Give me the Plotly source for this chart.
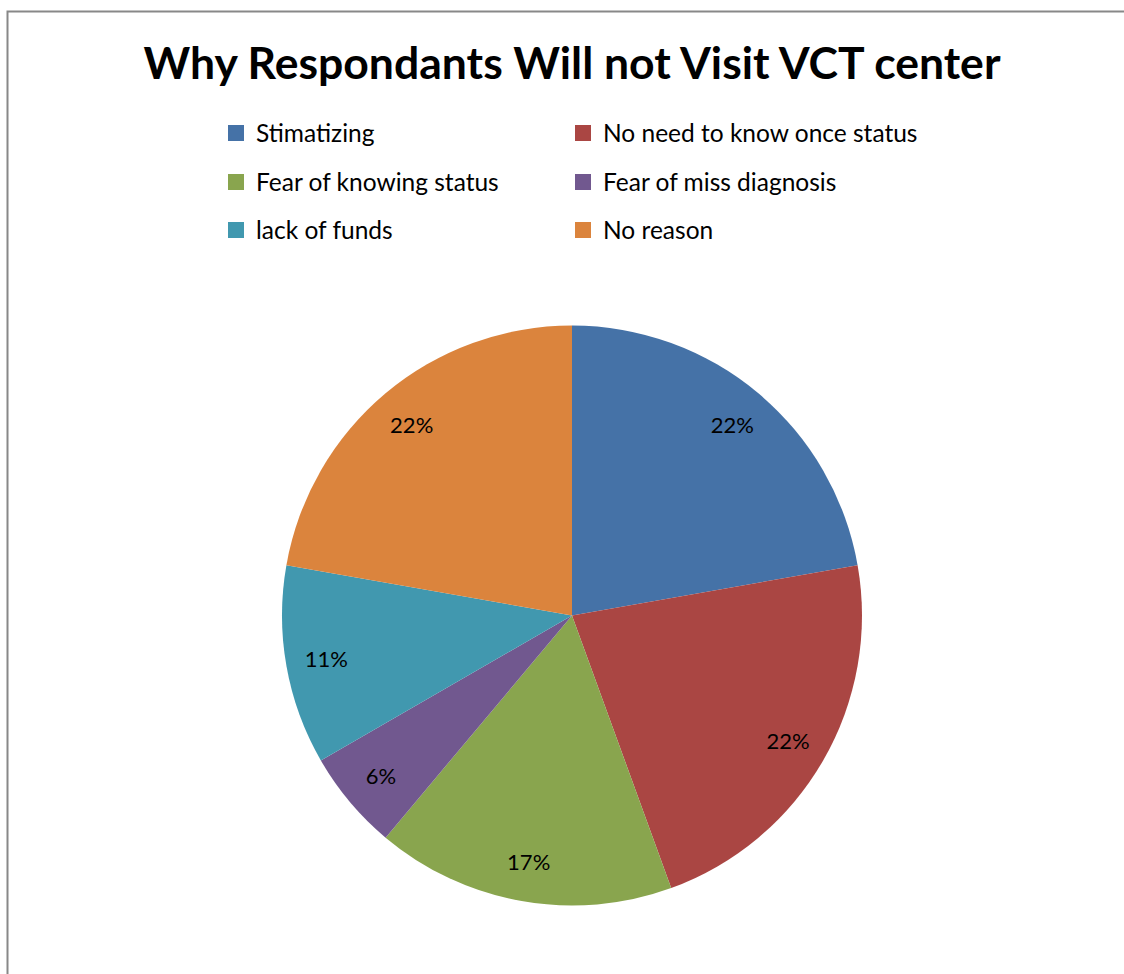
import plotly.graph_objects as go

categories = ["Stimatizing", "No need to know once status", "Fear of knowing status",
              "Fear of miss diagnosis", "lack of funds", "No reason"]
counts = [4, 4, 3, 1, 2, 4]
colors = ["#4572A7", "#AA4643", "#89A54E", "#71588F", "#4198AF", "#DB843D"]
title_text = "Why Respondants Will not Visit VCT center"

W, H = 1124, 974
FONT = "Lato, Open Sans, sans-serif"

fig = go.Figure()

# main pie (slices only)
fig.add_trace(go.Pie(
    labels=categories, values=counts, sort=False, direction="clockwise", rotation=0,
    marker=dict(colors=colors, line=dict(width=0)),
    textinfo="none", hoverinfo="label+percent", showlegend=False,
    domain=dict(x=[282 / W, 862 / W], y=[1 - 906 / H, 1 - 325 / H]),
))
# transparent ring overlay carrying percentage labels near the rim
fig.add_trace(go.Pie(
    labels=categories, values=counts, sort=False, direction="clockwise", rotation=0,
    hole=0.72,
    marker=dict(colors=["rgba(0,0,0,0)"] * len(categories), line=dict(width=0)),
    texttemplate="%{percent:.0%}", textposition="inside", insidetextorientation="horizontal",
    textfont=dict(family=FONT, size=22, color="#000000"),
    hoverinfo="skip", showlegend=False,
    domain=dict(x=[282 / W, 862 / W], y=[1 - 906 / H, 1 - 325 / H]),
))

# legend entries: two columns, three rows, one legend box per entry
legend_ids = ["legend", "legend2", "legend3", "legend4", "legend5", "legend6"]
for name, col, lg in zip(categories, colors, legend_ids):
    fig.add_trace(go.Scatter(
        x=[None], y=[None], mode="markers", name=name, legend=lg,
        marker=dict(symbol="square", size=16, color=col),
        showlegend=True, hoverinfo="skip",
    ))

leg_common = dict(orientation="h", xanchor="left", yanchor="middle",
                  font=dict(family=FONT, size=24.5, color="#000000"),
                  bgcolor="rgba(0,0,0,0)", borderwidth=0, itemclick=False, itemdoubleclick=False,
                  itemsizing="trace")
rows_y = [133, 182, 230]
cols_x = [216, 563]
legends = {}
for i, lg in enumerate(legend_ids):
    legends[lg] = dict(x=cols_x[i % 2] / W, y=1 - rows_y[i // 2] / H, **leg_common)

fig.update_layout(
    width=W, height=H,
    margin=dict(l=0, r=0, t=0, b=0),
    paper_bgcolor="#FFFFFF", plot_bgcolor="#FFFFFF",
    title=dict(text="<b>" + title_text + "</b>", x=572 / W, xanchor="center", y=1 - 63 / H,
               yanchor="middle", font=dict(family=FONT, size=44.5, color="#000000")),
    xaxis=dict(visible=False), yaxis=dict(visible=False),
    shapes=[dict(type="rect", xref="paper", yref="paper", x0=7.5 / W, x1=1.05,
                 y0=-0.05, y1=1 - 11.5 / H, line=dict(color="#888888", width=2),
                 fillcolor="rgba(0,0,0,0)", layer="below")],
    **legends,
)

fig.write_html("out.html")
